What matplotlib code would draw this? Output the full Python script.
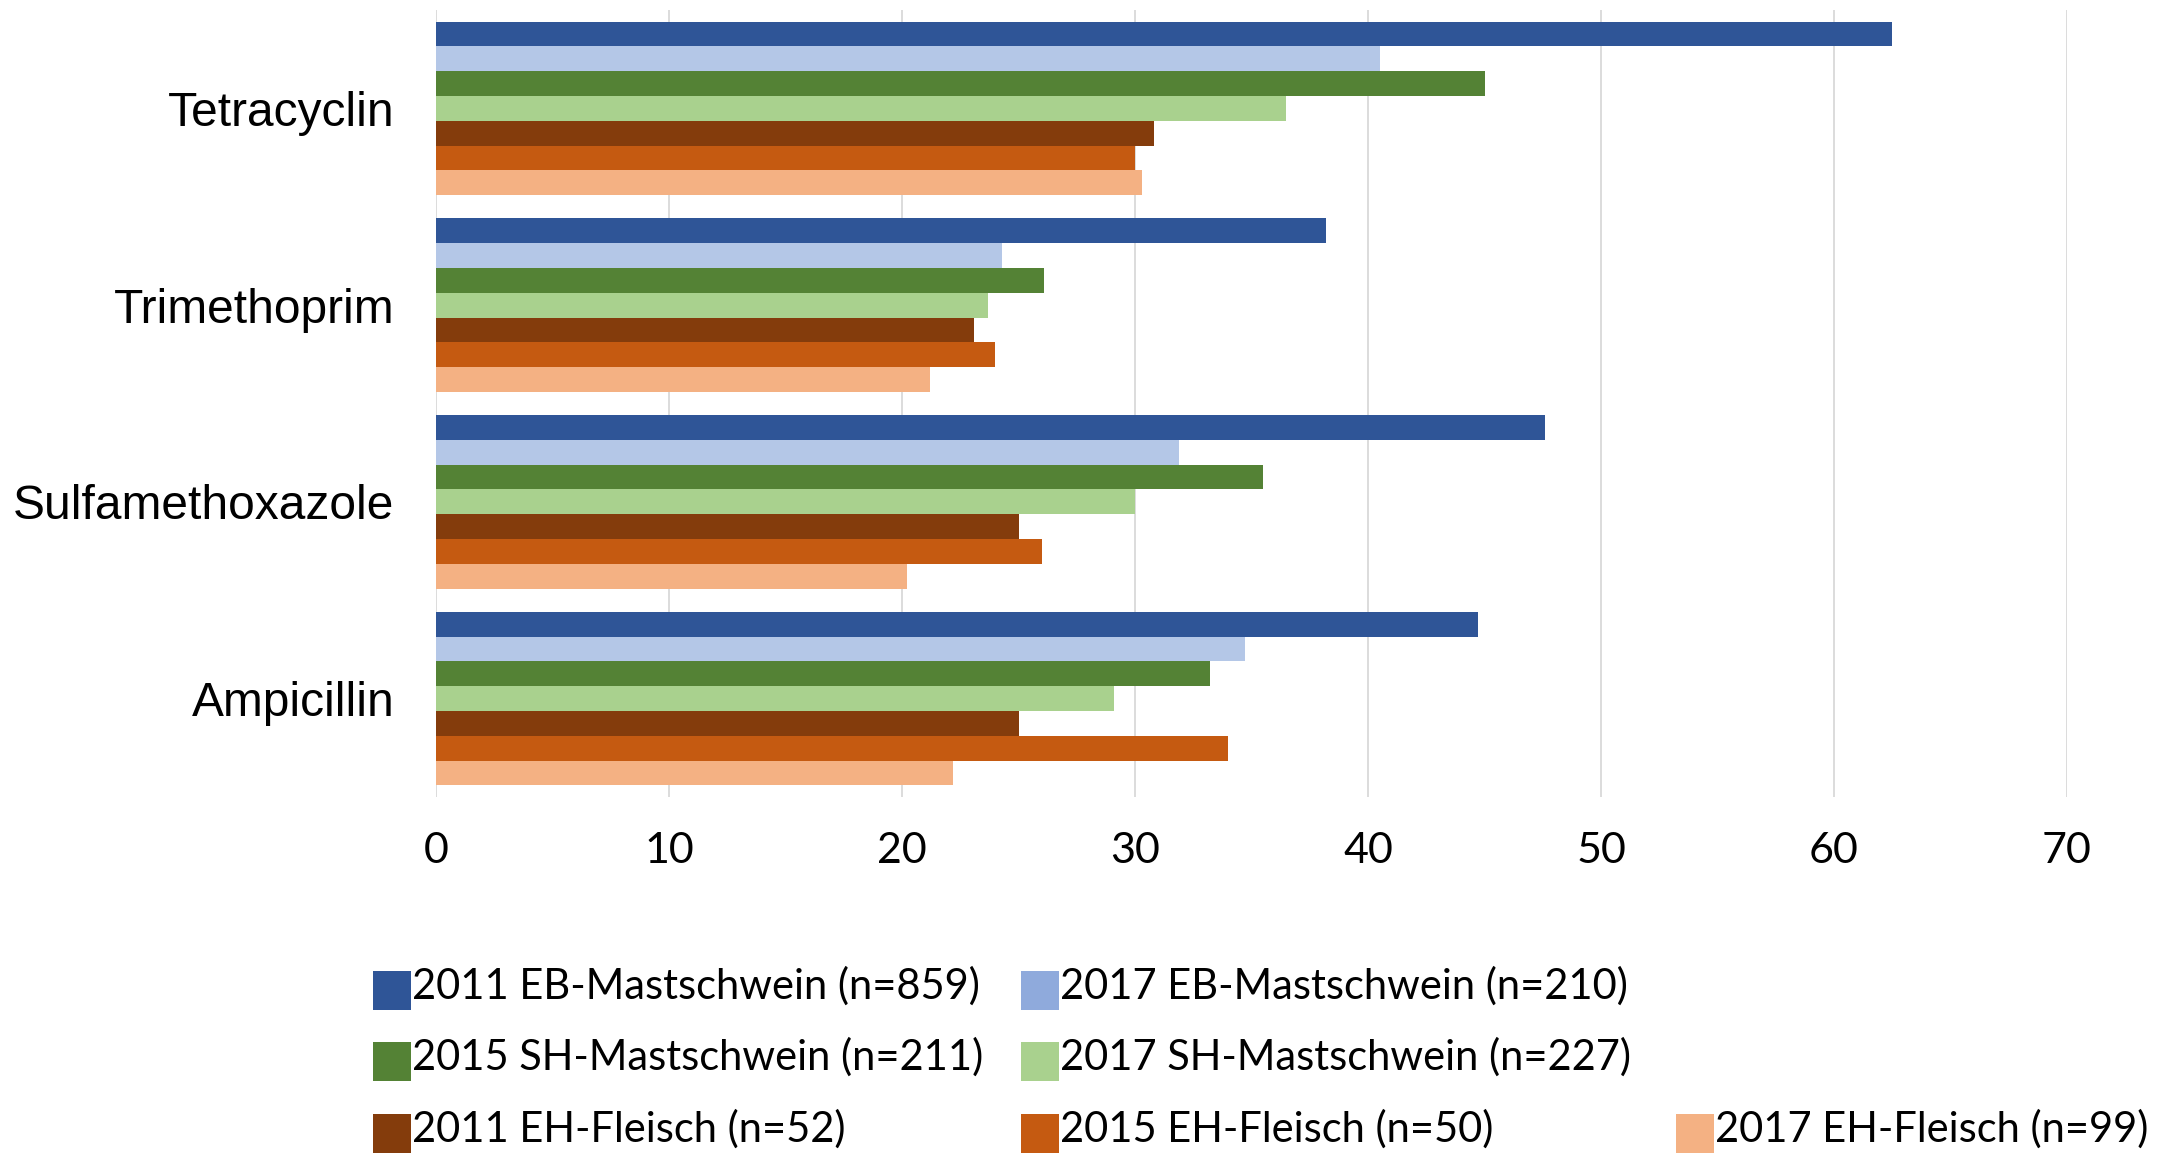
import numpy as np
import matplotlib.pyplot as plt
from matplotlib.patches import Rectangle

# ---------------- DATA ---------------- #
substances = ["Tetracyclin", "Trimethoprim", "Sulfamethoxazole", "Ampicillin"]

series_labels = [
    "2011 EB-Mastschwein (n=859)",
    "2017 EB-Mastschwein (n=210)",
    "2015 SH-Mastschwein (n=211)",
    "2017 SH-Mastschwein (n=227)",
    "2011 EH-Fleisch (n=52)",
    "2015 EH-Fleisch (n=50)",
    "2017 EH-Fleisch (n=99)",
]

# resistance rates in %, one list per series (same order as substances)
eb_2011 = [62.5, 38.2, 47.6, 44.7]
eb_2017 = [40.5, 24.3, 31.9, 34.7]
sh_2015 = [45.0, 26.1, 35.5, 33.2]
sh_2017 = [36.5, 23.7, 30.0, 29.1]
eh_2011 = [30.8, 23.1, 25.0, 25.0]
eh_2015 = [30.0, 24.0, 26.0, 34.0]
eh_2017 = [30.3, 21.2, 20.2, 22.2]

values = [eb_2011, eb_2017, sh_2015, sh_2017, eh_2011, eh_2015, eh_2017]

bar_colors = ["#2F5597", "#B4C7E7", "#548235", "#A9D18E", "#843C0C", "#C55A11", "#F4B183"]
legend_colors = ["#2F5597", "#8FAADC", "#548235", "#A9D18E", "#843C0C", "#C55A11", "#F4B183"]

x_ticks = [0, 10, 20, 30, 40, 50, 60, 70]

# ---------------- SETUP ---------------- #
W, H = 2184, 1154
fig = plt.figure(figsize=(W / 100, H / 100), dpi=100)
ax = fig.add_axes([436 / W, 1 - 797 / H, (2067 - 436) / W, (797 - 10) / H])

n = len(values)
bar_h = 0.883 / n
y = np.arange(len(substances))

for j, (vals, col) in enumerate(zip(values, bar_colors)):
    ax.barh(y + (j - (n - 1) / 2) * bar_h, vals, height=bar_h,
            color=col, edgecolor="none", zorder=3)

ax.set_ylim(len(substances) - 0.5, -0.5)
ax.set_xlim(0, 70)
ax.set_xticks(x_ticks)
ax.set_xticklabels([str(t) for t in x_ticks], fontsize=31, family="Lato")
ax.set_yticks(y)
ax.set_yticklabels(substances, fontsize=34.5, family="Liberation Sans")
ax.tick_params(axis="both", length=0)
ax.tick_params(axis="x", pad=25)
ax.tick_params(axis="y", pad=30)
ax.grid(axis="x", color="#D9D9D9", linewidth=1.3, zorder=0)
for s in ax.spines.values():
    s.set_visible(False)

# ---------------- LEGEND ---------------- #
# rows of 2, 2 and 3 entries
legend_pos = [(373, 0), (1021, 0), (373, 1), (1021, 1), (373, 2), (1021, 2), (1676, 2)]
row_bottom = [1010, 1081, 1153]
pw, ph = 38, 39

for (px, r), lab, col in zip(legend_pos, series_labels, legend_colors):
    pb = row_bottom[r]
    fig.add_artist(Rectangle((px / W, 1 - pb / H), pw / W, ph / H,
                             transform=fig.transFigure, color=col, lw=0))
    fig.text((px + pw + 1) / W, 1 - (pb - 11) / H, lab, fontsize=30,
             family="Lato", va="baseline", ha="left")

fig.savefig("out.png", dpi=100)
